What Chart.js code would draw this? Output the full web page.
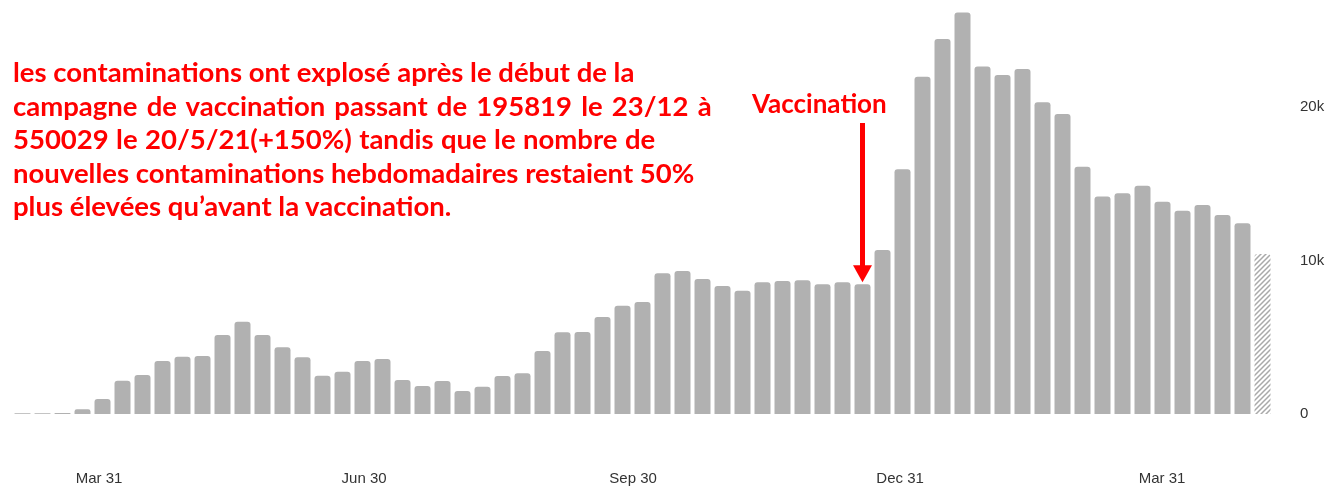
<!DOCTYPE html>
<html><head><meta charset="utf-8">
<script src="https://cdn.jsdelivr.net/npm/chart.js@4.4.1/dist/chart.umd.min.js"></script>
<style>
html,body{margin:0;padding:0;background:#fff;overflow:hidden;}
#wrap{position:relative;width:1338px;height:488px;}
#c{position:absolute;left:0;top:0;}
.note{position:absolute;color:#ff0000;font-family:Lato,'Open Sans',sans-serif;font-weight:700;white-space:nowrap;}
.note span{display:block;}
#para{left:13px;top:55px;line-height:33.5px;font-size:27.5px;}
#para span:nth-child(2){word-spacing:2.5px;}
#para span:nth-child(3){word-spacing:0.7px;}
#vacc{left:752px;top:87px;line-height:32px;font-size:26px;}
</style></head><body>
<div id="wrap">
<canvas id="c" width="1338" height="488"></canvas>
<div id="para" class="note"></div>
<div id="vacc" class="note"></div>
</div>
<script>
// weekly new cases (one bar per week)
const weeks = [1,2,3,4,5,6,7,8,9,10,11,12,13,14,15,16,17,18,19,20,21,22,23,24,25,26,27,28,29,30,31,32,33,34,35,36,37,38,39,40,41,42,43,44,45,46,47,48,49,50,51,52,53,54,55,56,57,58,59,60,61,62,63];
const cases = [50,50,60,310,980,2170,2540,3460,3740,3780,5150,6020,5150,4350,3700,2500,2760,3460,3590,2220,1830,2150,1500,1780,2480,2650,4110,5330,5350,6330,7060,7310,9180,9330,8810,8350,8040,8590,8680,8720,8460,8590,8460,10700,15960,22000,24460,26180,22660,22110,22500,20330,19570,16130,14180,14400,14890,13850,13260,13630,12980,12440,10440];
const partialWeek = 63;       // incomplete week, drawn hatched
const vaccinationWeek = 43;   // bar pointed at by the arrow

const xTickValues = [4.83, 18.08, 31.53, 44.88, 57.98];
const xTickLabels = ['Mar 31', 'Jun 30', 'Sep 30', 'Dec 31', 'Mar 31'];
const yTickValues = [0, 10000, 20000];
const yTickLabels = ['0', '10k', '20k'];

const noteLines = [
  'les contaminations ont explosé après le début de la',
  'campagne de vaccination passant de 195819 le 23/12 à',
  '550029 le 20/5/21(+150%) tandis que le nombre de',
  'nouvelles contaminations hebdomadaires restaient 50%',
  'plus élevées qu’avant la vaccination.'
];
const vaccinationLabel = 'Vaccination';

// annotation text
const para = document.getElementById('para');
noteLines.forEach(t => { const s = document.createElement('span'); s.textContent = t; para.appendChild(s); });
document.getElementById('vacc').textContent = vaccinationLabel;

function makeHatch() {
  const p = document.createElement('canvas');
  p.width = 5; p.height = 5;
  const g = p.getContext('2d');
  g.fillStyle = '#ffffff'; g.fillRect(0, 0, 5, 5);
  g.strokeStyle = '#a9a9a9'; g.lineWidth = 1.5;
  g.beginPath();
  g.moveTo(0, 5); g.lineTo(5, 0);
  g.moveTo(-2.5, 2.5); g.lineTo(2.5, -2.5);
  g.moveTo(2.5, 7.5); g.lineTo(7.5, 2.5);
  g.stroke();
  return g.createPattern(p, 'repeat');
}
const hatch = makeHatch();
const barGray = '#b1b1b1';

const arrowPlugin = {
  id: 'vaccArrow',
  afterDatasetsDraw(chart) {
    const { ctx, scales: { x, y } } = chart;
    const i = weeks.indexOf(vaccinationWeek);
    const px = x.getPixelForValue(vaccinationWeek);
    const tip = y.getPixelForValue(cases[i]) - 2;
    const top = 123, headH = 17, headW = 9.5;
    ctx.save();
    ctx.fillStyle = '#ff0000';
    ctx.fillRect(px - 2.5, top, 5, tip - headH - top + 1);
    ctx.beginPath();
    ctx.moveTo(px - headW, tip - headH);
    ctx.lineTo(px + headW, tip - headH);
    ctx.lineTo(px, tip);
    ctx.closePath();
    ctx.fill();
    ctx.restore();
  }
};

const tickFont = { family: "'Liberation Sans', Arial, sans-serif", size: 15 };

new Chart(document.getElementById('c'), {
  type: 'bar',
  data: {
    datasets: [{
      data: weeks.map((w, i) => ({ x: w, y: cases[i] })),
      backgroundColor: c => (weeks[c.dataIndex] === partialWeek ? hatch : barGray),
      borderRadius: 3,
      borderSkipped: 'start',
      barPercentage: 0.8,
      categoryPercentage: 1.0
    }]
  },
  options: {
    responsive: false,
    animation: false,
    devicePixelRatio: 1,
    layout: { padding: 0 },
    plugins: { legend: { display: false }, tooltip: { enabled: false } },
    scales: {
      x: {
        type: 'linear',
        offset: false,
        min: -0.125,
        max: 64.375,
        grid: { display: false, drawTicks: false },
        border: { display: false },
        afterBuildTicks: s => { s.ticks = xTickValues.map(v => ({ value: v })); },
        afterFit: s => { s.height = 74; s.paddingLeft = 0; s.paddingRight = 0; },
        ticks: {
          autoSkip: false, maxRotation: 0, padding: 56,
          color: '#333333', font: tickFont,
          callback: (v, i) => xTickLabels[i]
        }
      },
      y: {
        position: 'right',
        min: 0,
        max: 27000,
        grid: { display: false, drawTicks: false },
        border: { display: false },
        afterBuildTicks: s => { s.ticks = yTickValues.map(v => ({ value: v })); },
        afterFit: s => { s.width = 48; s.paddingTop = 0; s.paddingBottom = 0; },
        ticks: {
          padding: 10, color: '#333333', font: tickFont,
          callback: (v, i) => yTickLabels[i]
        }
      }
    }
  },
  plugins: [arrowPlugin]
});
</script>
</body></html>
